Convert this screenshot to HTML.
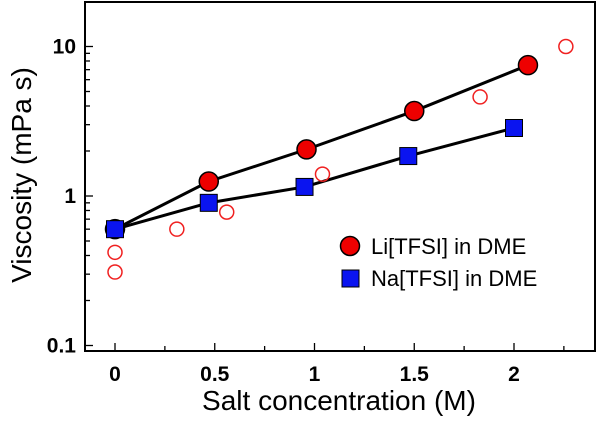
<!DOCTYPE html>
<html><head><meta charset="utf-8"><style>
html,body{margin:0;padding:0;background:#fff;}
svg{display:block;font-family:"Liberation Sans",Arial,sans-serif;}
</style></head><body>
<svg id="chart" width="600" height="423" viewBox="0 0 600 423"></svg>
<script>
const xTicks=[0,0.5,1,1.5,2];
const xTickLabels=["0","0.5","1","1.5","2"];
const yTicks=[0.1,1,10];
const yTickLabels=["0.1","1","10"];
const liX=[0,0.47,0.96,1.5,2.07];
const liY=[0.6,1.25,2.05,3.7,7.5];
const naX=[0,0.47,0.95,1.47,2.0];
const naY=[0.6,0.9,1.15,1.85,2.85];
const refX=[0,0,0.31,0.56,1.04,1.83,2.26];
const refY=[0.42,0.31,0.6,0.78,1.4,4.6,10];

const NS="http://www.w3.org/2000/svg";
const svg=document.getElementById('chart');
const L=85,R=595,T=2,B=351;
const sx=v=>115+v*199.5;
const sy=v=>196-Math.log10(v)*149.5;
function mk(tag,attrs,parent){const e=document.createElementNS(NS,tag);for(const k in attrs)e.setAttribute(k,attrs[k]);(parent||svg).appendChild(e);return e;}

const frame=mk('rect',{x:L,y:T,width:R-L,height:B-T,fill:'none',stroke:'#000','stroke-width':2});



for(let v=0;v<=2.26;v+=0.25){
  const major=Math.abs(v*2-Math.round(v*2))<1e-6;
  const t=mk('line',{x1:sx(v),x2:sx(v),y1:B,y2:B-(major?8:5),stroke:'#000','stroke-width':1.3});
  
  
}
xTicks.forEach((v,i)=>{
  const t=mk('text',{x:sx(v),y:381,'text-anchor':'middle','font-size':21,'font-weight':'bold'});
  t.textContent=xTickLabels[i];
  
  
});
[0.1,1].forEach(d=>{for(let m=1;m<10;m++){const v=d*m;
  const t=mk('line',{x1:L,x2:L+(m===1?8:5),y1:sy(v),y2:sy(v),stroke:'#000','stroke-width':1.3});
  
  
}});
const t10=mk('line',{x1:L,x2:L+8,y1:sy(10),y2:sy(10),stroke:'#000','stroke-width':1.3});


yTicks.forEach((v,i)=>{
  const t=mk('text',{x:76,y:sy(v)+7,'text-anchor':'end','font-size':21,'font-weight':'bold'});
  t.textContent=yTickLabels[i];
  
  
});
const xt=mk('text',{x:339,y:410,'text-anchor':'middle','font-size':28});
xt.textContent='Salt concentration (M)';


const yt=mk('text',{x:0,y:0,'text-anchor':'middle','font-size':28,transform:'translate(31,175) rotate(-90)'});
yt.textContent='Viscosity (mPa s)';



const liLine=mk('polyline',{points:liX.map((x,i)=>sx(x)+','+sy(liY[i])).join(' '),fill:'none',stroke:'#000','stroke-width':3});


const naLine=mk('polyline',{points:naX.map((x,i)=>sx(x)+','+sy(naY[i])).join(' '),fill:'none',stroke:'#000','stroke-width':3});



refX.forEach((x,i)=>{
  const c=mk('circle',{cx:sx(x),cy:sy(refY[i]),r:7,fill:'none',stroke:'#f02020','stroke-width':1.5});
  
  
});
liX.forEach((x,i)=>{
  const c=mk('circle',{cx:sx(x),cy:sy(liY[i]),r:9.5,fill:'#ee0000',stroke:'#000','stroke-width':1.5});
  
  
});
naX.forEach((x,i)=>{
  const c=mk('rect',{x:sx(x)-8.5,y:sy(naY[i])-8.5,width:17,height:17,fill:'#0a14f0',stroke:'#000','stroke-width':1});
  
  
});

const lg=mk('g',{});


const lc=mk('circle',{cx:350,cy:246,r:9.5,fill:'#ee0000',stroke:'#000','stroke-width':1.5},lg);


const lt1=mk('text',{x:371,y:254,'font-size':22},lg);
lt1.textContent='Li[TFSI] in DME';


const ls=mk('rect',{x:342,y:270,width:17,height:17,fill:'#0a14f0',stroke:'#000','stroke-width':1},lg);


const lt2=mk('text',{x:371,y:286,'font-size':22},lg);
lt2.textContent='Na[TFSI] in DME';


</script>
</body></html>
